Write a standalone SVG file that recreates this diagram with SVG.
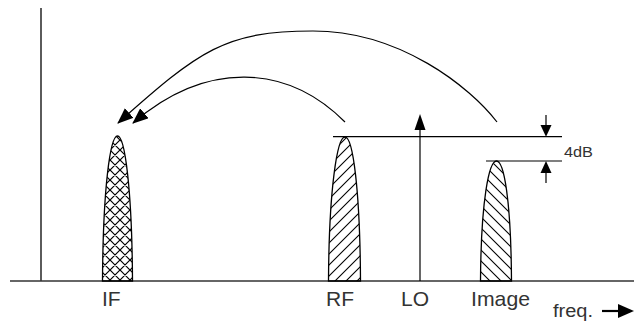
<svg xmlns="http://www.w3.org/2000/svg" width="634" height="322" viewBox="0 0 634 322">
<style>
.ln{stroke:#000;stroke-width:1.2;fill:none}
.ax{stroke:#333;stroke-width:1.6;fill:none}
.pk{stroke:#000;stroke-width:1.3}
.lbl{font-family:"Liberation Sans",Arial,sans-serif;font-size:21px;fill:#333}
.sm{font-family:"Liberation Sans",Arial,sans-serif;font-size:14px;fill:#333}
</style>
<defs>
<pattern id="cross" width="10" height="10" patternUnits="userSpaceOnUse">
<path d="M-1 1 L1 -1 M0 10 L10 0 M9 11 L11 9 M-1 9 L1 11 M0 0 L10 10 M9 -1 L11 1" stroke="#000" stroke-width="1.2"/>
</pattern>
<pattern id="fwd" width="11" height="11" patternUnits="userSpaceOnUse">
<path d="M-1 1 L1 -1 M0 11 L11 0 M10 12 L12 10" stroke="#000" stroke-width="1.1"/>
</pattern>
<pattern id="bwd" width="11" height="11" patternUnits="userSpaceOnUse">
<path d="M-1 10 L1 12 M0 0 L11 11 M10 -1 L12 1" stroke="#000" stroke-width="1.1"/>
</pattern>
<marker id="ah" markerWidth="16" markerHeight="13" refX="15" refY="6.5" orient="auto" markerUnits="userSpaceOnUse">
<path d="M0 0 L16 6.5 L0 13 Z" fill="#000"/>
</marker>
</defs>
<g id="axes">
<line class="ax" x1="41" y1="8" x2="41" y2="281"/>
<line class="ax" x1="10" y1="281" x2="634" y2="281"/>
</g>
<g id="IF">
<path class="pk" fill="url(#cross)" d="M102.5 281 C103 190 110 136 117.5 136 C125 136 132 190 132.5 281 Z"/>
<text class="lbl" x="102" y="306">IF</text>
</g>
<g id="RF">
<path class="pk" fill="url(#fwd)" d="M328.5 281 C329 190 337 137 345 137 C353 137 360 190 360.5 281 Z"/>
<text class="lbl" x="326" y="306">RF</text>
</g>
<g id="LO">
<line class="ln" x1="420" y1="281" x2="420" y2="128"/>
<path d="M414.5 130 L420 114 L425.5 130 Z" fill="#000"/>
<text class="lbl" x="401" y="306">LO</text>
</g>
<g id="Image">
<path class="pk" fill="url(#bwd)" d="M480.5 281 C481 200 489 161 496.5 161 C504 161 511 200 511.5 281 Z"/>
<text class="lbl" x="471" y="306" textLength="59" lengthAdjust="spacingAndGlyphs">Image</text>
</g>
<g id="levels">
<line class="ln" x1="333" y1="136.7" x2="562" y2="136.7"/>
<line class="ln" x1="486" y1="161" x2="562" y2="161"/>
<line class="ln" x1="546" y1="115" x2="546" y2="126"/>
<path d="M540.5 125 L546 136.7 L551.5 125 Z" fill="#000"/>
<line class="ln" x1="546" y1="172" x2="546" y2="183"/>
<path d="M540.5 173 L546 161 L551.5 173 Z" fill="#000"/>
<text class="sm" x="564" y="157" textLength="29" lengthAdjust="spacingAndGlyphs">4dB</text>
</g>
<g id="connectors">
<path class="ln" marker-end="url(#ah)" d="M497 122 C470 87 400 31 313 31 C225 31 200 50 118 123"/>
<path class="ln" marker-end="url(#ah)" d="M345 122 C287 64 206.5 60 133 123"/>
</g>
<g id="freq">
<text class="lbl" x="553" y="317" textLength="40" lengthAdjust="spacingAndGlyphs" style="font-size:18px">freq.</text>
<line class="ln" x1="602" y1="311" x2="620" y2="311" style="stroke-width:2.2"/>
<path d="M618 304 L634 311 L618 318 Z" fill="#000"/>
</g>
</svg>
